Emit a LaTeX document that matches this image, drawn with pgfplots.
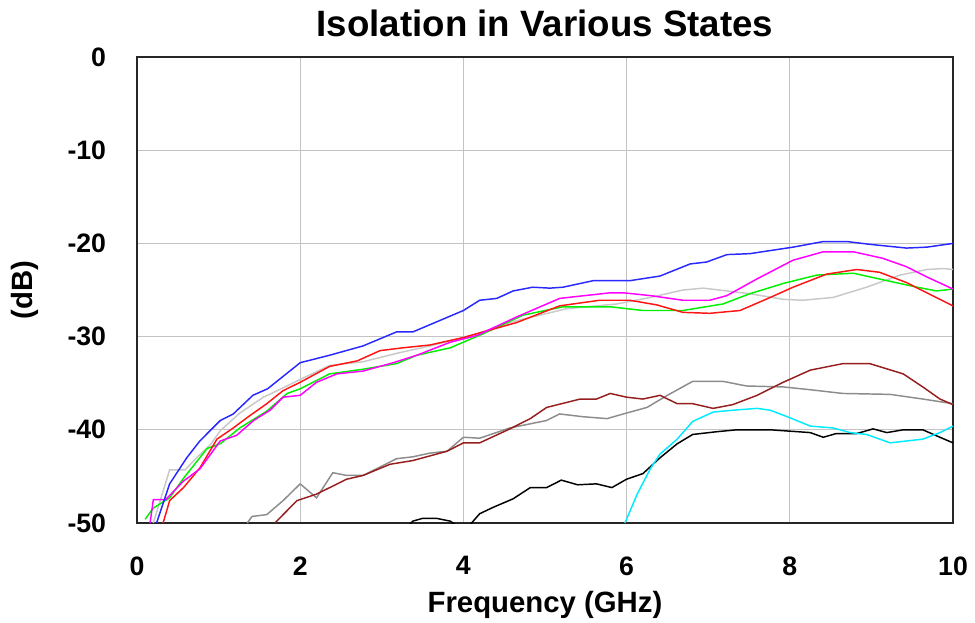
\documentclass[border=0pt]{standalone}
\usepackage{fontspec}
\setmainfont{Liberation Sans}
\usepackage{pgfplots}
\pgfplotsset{compat=1.18}
\definecolor{cblue}{RGB}{40,40,255}
\definecolor{cmag}{RGB}{255,0,255}
\definecolor{cred}{RGB}{255,20,20}
\definecolor{cgreen}{RGB}{0,240,0}
\definecolor{csilver}{RGB}{200,200,200}
\definecolor{cgray}{RGB}{140,140,140}
\definecolor{cbrown}{RGB}{150,30,30}
\definecolor{ccyan}{RGB}{0,235,255}
\definecolor{gridc}{RGB}{195,195,195}
\begin{document}
\begin{tikzpicture}
\begin{axis}[
  scale only axis,
  at={(0,0)}, anchor=south west,
  width=612pt, height=349.5pt,
  xmin=0, xmax=10, ymin=-50, ymax=0,
  xtick={0,2,4,6,8,10}, ytick={-50,-40,-30,-20,-10,0},
  major tick length=0pt,
  grid=major,
  major grid style={draw=gridc, line width=0.8pt},
  axis line style={draw=black!85, line width=1.3pt},
  /pgf/number format/assume math mode=true,
  tick label style={font=\fontsize{20}{22}\selectfont\bfseries, inner sep=0pt},
  xticklabel style={anchor=north, yshift=-25pt},
  yticklabel style={anchor=east, xshift=-23pt},
  every axis title shift=0pt,
  title={Isolation in Various States},
  title style={font=\fontsize{27.5}{30}\selectfont\bfseries, at={(axis description cs:0.5,1.043)}, anchor=base, inner sep=0pt},
  xlabel={Frequency (GHz)},
  xlabel style={font=\fontsize{22}{24}\selectfont\bfseries, at={(axis description cs:0.5,-0.191)}, anchor=base, inner sep=0pt},
  ylabel={(dB)},
  ylabel style={font=\fontsize{22}{24}\selectfont\bfseries, at={(axis description cs:-0.128,0.5)}, anchor=base, inner sep=0pt},
  every axis plot/.append style={line width=1.1pt},
  clip=true,
]
% light gray
\addplot[csilver] coordinates {(0.2,-50) (0.4,-44.3) (0.59,-44.3) (0.73,-43.0) (0.9,-41.6) (1.02,-40.1) (1.26,-38.2) (1.55,-36.5) (1.79,-35.5) (2.0,-34.6) (2.36,-33.1) (2.77,-32.7) (3.18,-31.8) (3.59,-31.0) (4.0,-30.1) (4.16,-29.7) (4.65,-28.3) (5.27,-27.0) (5.88,-26.5) (6.29,-25.8) (6.69,-25.0) (6.94,-24.8) (7.23,-25.1) (7.51,-25.4) (7.92,-26.0) (8.16,-26.1) (8.53,-25.8) (8.94,-24.7) (9.35,-23.4) (9.68,-22.8) (9.88,-22.7) (10.0,-22.8)};
% gray
\addplot[cgray] coordinates {(1.35,-50) (1.41,-49.3) (1.59,-49.1) (1.79,-47.6) (2.0,-45.8) (2.2,-47.3) (2.4,-44.6) (2.57,-44.9) (2.77,-44.9) (3.18,-43.1) (3.38,-42.9) (3.59,-42.5) (3.8,-42.3) (4.0,-40.8) (4.2,-40.9) (4.57,-39.8) (5.02,-39.0) (5.18,-38.3) (5.47,-38.6) (5.76,-38.8) (6.0,-38.2) (6.25,-37.6) (6.5,-36.3) (6.81,-34.8) (7.18,-34.8) (7.47,-35.3) (7.92,-35.4) (8.25,-35.7) (8.65,-36.1) (9.23,-36.2) (9.63,-36.7) (10.0,-37.2)};
% brown
\addplot[cbrown] coordinates {(1.69,-50) (1.96,-47.6) (2.2,-46.9) (2.57,-45.3) (2.77,-44.9) (3.1,-43.7) (3.38,-43.3) (3.8,-42.3) (4.0,-41.4) (4.2,-41.4) (4.57,-39.9) (4.82,-38.8) (5.02,-37.6) (5.43,-36.7) (5.63,-36.7) (5.8,-36.1) (6.0,-36.5) (6.2,-36.7) (6.41,-36.3) (6.62,-37.2) (6.81,-37.2) (7.06,-37.7) (7.3,-37.3) (7.6,-36.3) (7.92,-34.9) (8.25,-33.6) (8.65,-32.9) (8.98,-32.9) (9.39,-34.0) (9.63,-35.4) (9.84,-36.7) (10.0,-37.3)};
% black
\addplot[black] coordinates {(3.3,-50.5) (3.38,-49.8) (3.5,-49.5) (3.67,-49.5) (3.84,-49.8) (3.95,-50.5)};
\addplot[black] coordinates {(4.05,-50.5) (4.2,-49.0) (4.37,-48.3) (4.61,-47.4) (4.82,-46.2) (5.02,-46.2) (5.2,-45.4) (5.4,-45.9) (5.63,-45.8) (5.82,-46.2) (6.0,-45.3) (6.2,-44.7) (6.41,-43.0) (6.62,-41.5) (6.81,-40.5) (7.11,-40.2) (7.35,-40.0) (7.76,-40.0) (8.09,-40.2) (8.25,-40.3) (8.41,-40.8) (8.57,-40.4) (8.82,-40.4) (9.02,-39.9) (9.19,-40.3) (9.39,-40.0) (9.63,-40.0) (9.84,-40.8) (10.0,-41.4)};
% cyan
\addplot[ccyan] coordinates {(5.98,-50) (6.13,-46.9) (6.29,-44.2) (6.41,-42.6) (6.62,-41.0) (6.81,-39.1) (7.06,-38.1) (7.3,-37.9) (7.6,-37.7) (7.76,-37.9) (8.0,-38.7) (8.25,-39.6) (8.53,-39.8) (8.74,-40.3) (8.94,-40.5) (9.23,-41.4) (9.43,-41.2) (9.63,-41.0) (9.84,-40.3) (10.0,-39.6)};
% green
\addplot[cgreen] coordinates {(0.1,-49.6) (0.2,-48.4) (0.4,-47.3) (0.57,-45.2) (0.86,-42.0) (1.02,-41.5) (1.26,-39.8) (1.59,-38.0) (1.84,-36.1) (2.0,-35.6) (2.36,-34.0) (2.77,-33.5) (3.18,-32.9) (3.43,-32.0) (3.84,-31.2) (4.24,-29.7) (4.73,-27.7) (5.22,-26.8) (5.8,-26.8) (6.2,-27.2) (6.69,-27.2) (7.18,-26.5) (7.51,-25.4) (7.92,-24.3) (8.33,-23.4) (8.78,-23.2) (9.14,-23.9) (9.56,-24.7) (9.8,-25.1) (10.0,-24.9)};
% red
\addplot[cred] coordinates {(0.32,-50) (0.4,-47.6) (0.57,-46.2) (0.77,-44.1) (0.98,-41.0) (1.18,-39.8) (1.38,-38.5) (1.59,-37.2) (1.79,-35.8) (2.0,-34.9) (2.36,-33.2) (2.7,-32.6) (2.98,-31.5) (3.26,-31.2) (3.59,-30.9) (4.0,-30.1) (4.16,-29.7) (4.65,-28.5) (5.18,-26.7) (5.67,-26.1) (6.04,-26.1) (6.37,-26.6) (6.69,-27.4) (7.02,-27.5) (7.39,-27.2) (7.76,-25.8) (8.04,-24.7) (8.45,-23.3) (8.82,-22.8) (9.1,-23.1) (9.43,-24.2) (9.68,-25.3) (10.0,-26.7)};
% magenta
\addplot[cmag] coordinates {(0.16,-50) (0.2,-47.5) (0.35,-47.5) (0.57,-45.5) (0.77,-44.2) (1.02,-41.2) (1.22,-40.6) (1.43,-39.0) (1.63,-37.9) (1.79,-36.5) (2.0,-36.3) (2.2,-34.9) (2.45,-34.0) (2.77,-33.7) (3.14,-32.8) (3.43,-32.0) (3.84,-30.6) (4.16,-29.9) (4.65,-27.9) (5.18,-25.9) (5.8,-25.3) (5.96,-25.3) (6.29,-25.6) (6.69,-26.1) (7.02,-26.1) (7.23,-25.6) (7.6,-23.8) (8.04,-21.8) (8.41,-20.9) (8.78,-20.9) (9.14,-21.6) (9.43,-22.5) (9.68,-23.6) (10.0,-24.9)};
% blue
\addplot[cblue] coordinates {(0.24,-50) (0.40,-45.8) (0.61,-43) (0.77,-41.2) (1.02,-39) (1.18,-38.3) (1.42,-36.3) (1.6,-35.6) (2.0,-32.8) (2.36,-32.0) (2.77,-31.0) (3.18,-29.5) (3.38,-29.5) (4.0,-27.2) (4.2,-26.1) (4.41,-25.9) (4.61,-25.1) (4.85,-24.7) (5.06,-24.8) (5.22,-24.7) (5.59,-24.0) (6.04,-24.0) (6.41,-23.5) (6.78,-22.2) (6.98,-22.0) (7.23,-21.2) (7.51,-21.1) (8.04,-20.4) (8.41,-19.8) (8.70,-19.8) (8.98,-20.1) (9.43,-20.5) (9.68,-20.4) (10.0,-20.0)};
\end{axis}
\pgfresetboundingbox
\path[use as bounding box] (-102.75pt,-74.25pt) rectangle (628.5pt,392.25pt);
\end{tikzpicture}
\end{document}
